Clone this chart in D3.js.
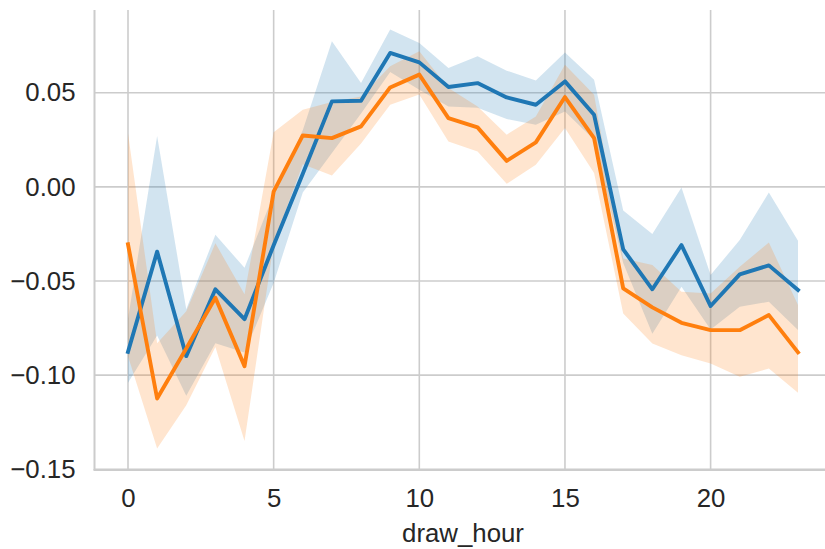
<!DOCTYPE html>
<html>
<head>
<meta charset="utf-8">
<script src="https://cdn.jsdelivr.net/npm/d3@7"></script>
<style>
  html, body { margin: 0; padding: 0; background: #ffffff; }
  svg { display: block; }
  text { font-family: "Liberation Sans", Arial, sans-serif; fill: #262626; }
</style>
</head>
<body>
<svg id="chart" width="825" height="549"></svg>
<script>
const hours = d3.range(0, 24);
const blueMean = [-0.0876,-0.0344,-0.0899,-0.0544,-0.0703,-0.031,0.0070,0.0454,0.0457,0.0711,0.0661,0.0530,0.0551,0.0475,0.0436,0.0560,0.0383,-0.0332,-0.0544,-0.0309,-0.0633,-0.0465,-0.0417,-0.0548];
const blueLow  = [-0.104,-0.079,-0.111,-0.083,-0.088,-0.051,-0.003,0.018,0.039,0.061,0.0516,0.0427,0.042,0.036,0.033,0.040,0.025,-0.0405,-0.078,-0.053,-0.0757,-0.0637,-0.061,-0.076];
const blueHigh = [-0.070,0.027,-0.065,-0.0255,-0.043,-0.004,0.030,0.0773,0.0551,0.0835,0.0764,0.0631,0.0693,0.0617,0.0565,0.0714,0.0569,-0.0126,-0.025,-0.0004,-0.0468,-0.0282,-0.003,-0.0286];
const orangeMean = [-0.0305,-0.1124,-0.0858,-0.0589,-0.0952,-0.0025,0.0273,0.0259,0.0321,0.0528,0.0596,0.0365,0.0316,0.0138,0.0236,0.0477,0.0259,-0.0539,-0.064,-0.0722,-0.0761,-0.0761,-0.0681,-0.0879];
const orangeLow  = [-0.090,-0.139,-0.116,-0.085,-0.135,-0.030,0.012,0.006,0.023,0.0436,0.049,0.0241,0.0188,0.0016,0.0117,0.0312,0.0073,-0.0672,-0.0832,-0.0894,-0.0938,-0.1009,-0.0965,-0.1094];
const orangeHigh = [0.0285,-0.083,-0.066,-0.030,-0.057,0.029,0.041,0.045,0.048,0.064,0.072,0.0525,0.0427,0.0277,0.0374,0.0649,0.0489,-0.038,-0.0415,-0.0557,-0.0566,-0.0424,-0.0296,-0.0628];
const xTicks = [0, 5, 10, 15, 20];
const yTicks = [-0.15, -0.10, -0.05, 0.00, 0.05];
const xLabel = "draw_hour";
const series = [
  { color: "#1f77b4", mean: blueMean, low: blueLow, high: blueHigh },
  { color: "#ff7f0e", mean: orangeMean, low: orangeLow, high: orangeHigh }
];

const svg = d3.select("#chart");
const pLeft = 94.5, pRight = 831.5, pTop = 10, pBottom = 470;
const x = d3.scaleLinear().domain([-1.15, 24.15]).range([pLeft, pRight]);
const y = d3.scaleLinear().domain([-0.15, 0.05]).range([469.3, 92.7]);

svg.append("defs").append("clipPath").attr("id", "clip")
  .append("rect").attr("x", pLeft).attr("y", pTop).attr("width", pRight - pLeft).attr("height", pBottom - pTop);

// grid
const grid = svg.append("g");
grid.selectAll("line.vx").data(xTicks).join("line").attr("class", "vx")
  .attr("x1", d => x(d)).attr("x2", d => x(d)).attr("y1", pTop).attr("y2", pBottom)
  .attr("stroke", "#cccccc").attr("stroke-width", 1.6);
grid.selectAll("line.hy").data(yTicks).join("line").attr("class", "hy")
  .attr("x1", pLeft).attr("x2", pRight).attr("y1", d => y(d)).attr("y2", d => y(d))
  .attr("stroke", "#cccccc").attr("stroke-width", 1.6);

const plot = svg.append("g").attr("clip-path", "url(#clip)");
const area = d3.area().x((d, i) => x(hours[i])).y0(d => y(d[0])).y1(d => y(d[1]));
const line = d3.line().x((d, i) => x(hours[i])).y(d => y(d));

series.forEach(s => {
  plot.append("path")
    .datum(hours.map((h, i) => [s.low[i], s.high[i]]))
    .attr("d", area).attr("fill", s.color).attr("fill-opacity", 0.2);
});
series.forEach(s => {
  plot.append("path").datum(s.mean).attr("d", line)
    .attr("fill", "none").attr("stroke", s.color).attr("stroke-width", 3.9)
    .attr("stroke-linejoin", "round").attr("stroke-linecap", "square");
});

// spines
svg.append("line").attr("x1", pLeft).attr("x2", pLeft).attr("y1", pTop).attr("y2", pBottom)
  .attr("stroke", "#cccccc").attr("stroke-width", 2);
svg.append("line").attr("x1", pLeft - 1).attr("x2", pRight).attr("y1", pBottom).attr("y2", pBottom)
  .attr("stroke", "#cccccc").attr("stroke-width", 2);

// axes labels via d3 axes
const fmt = d => d3.format(".2f")(d).replace("-", "\u2212");
const yAxis = svg.append("g").attr("transform", `translate(${pLeft},0)`)
  .call(d3.axisLeft(y).tickValues(yTicks).tickFormat(fmt).tickSize(0).tickPadding(19));
yAxis.select(".domain").remove();
yAxis.selectAll("text").attr("font-size", "25.8px").attr("fill", "#262626")
  .style("font-family", "'Liberation Sans', Arial, sans-serif");

const xAxis = svg.append("g").attr("transform", `translate(0,${pBottom})`)
  .call(d3.axisBottom(x).tickValues(xTicks).tickFormat(d3.format("d")).tickSize(0).tickPadding(19));
xAxis.select(".domain").remove();
xAxis.selectAll("text").attr("font-size", "25.8px").attr("fill", "#262626")
  .style("font-family", "'Liberation Sans', Arial, sans-serif");

svg.append("text").attr("x", (pLeft + pRight) / 2).attr("y", 541.5)
  .attr("text-anchor", "middle").attr("font-size", "25.8px").text(xLabel);
</script>
</body>
</html>
